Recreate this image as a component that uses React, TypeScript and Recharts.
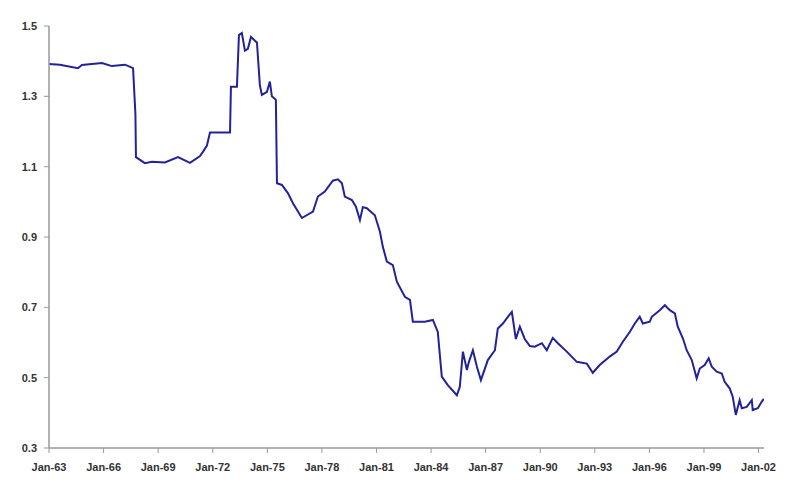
import { LineChart, Line, XAxis, YAxis } from 'recharts'

// Decimal years of each reading (x) and the plotted value (y)
const years = [
  1963.0, 1963.6, 1964.59, 1964.81, 1965.91, 1966.46, 1967.18, 1967.62, 1967.75, 1967.78,
  1968.27, 1968.66, 1969.37, 1970.09, 1970.75, 1971.3, 1971.46, 1971.68, 1971.85, 1972.95,
  1973.0, 1973.33, 1973.44, 1973.6, 1973.77, 1973.93, 1974.1, 1974.43, 1974.59, 1974.7,
  1974.98, 1975.14, 1975.25, 1975.47, 1975.53, 1975.8, 1976.13, 1976.41, 1976.9, 1977.51,
  1977.78, 1978.16, 1978.6, 1978.88, 1979.1, 1979.26, 1979.65, 1979.87, 1980.09, 1980.25,
  1980.47, 1980.91, 1981.19, 1981.35, 1981.57, 1981.9, 1982.12, 1982.56, 1982.84, 1983.0,
  1983.66, 1984.1, 1984.37, 1984.59, 1984.92, 1985.42, 1985.58, 1985.75, 1985.97, 1986.08,
  1986.3, 1986.52, 1986.74, 1987.12, 1987.51, 1987.67, 1987.95, 1988.22, 1988.44, 1988.66,
  1988.88, 1989.15, 1989.43, 1989.7, 1990.09, 1990.36, 1990.69, 1990.97, 1991.46, 1992.01,
  1992.56, 1992.89, 1993.27, 1993.82, 1994.21, 1994.54, 1994.92, 1995.2, 1995.47, 1995.64,
  1996.02, 1996.13, 1996.57, 1996.85, 1997.12, 1997.4, 1997.56, 1997.84, 1998.05, 1998.33,
  1998.6, 1998.77, 1999.04, 1999.26, 1999.43, 1999.7, 1999.98, 2000.14, 2000.42, 2000.58,
  2000.75, 2000.96, 2001.08, 2001.35, 2001.63, 2001.68, 2001.96, 2002.18, 2002.29,
]

const values = [
  1.392, 1.39, 1.38, 1.389, 1.395, 1.386, 1.39, 1.38, 1.25, 1.127,
  1.11, 1.114, 1.112, 1.127, 1.111, 1.13, 1.142, 1.16, 1.197, 1.197,
  1.327, 1.327, 1.474, 1.48, 1.43, 1.435, 1.469, 1.453, 1.332, 1.304,
  1.313, 1.342, 1.3, 1.29, 1.053, 1.048, 1.025, 0.996, 0.954, 0.972,
  1.015, 1.029, 1.06, 1.064, 1.053, 1.015, 1.005, 0.986, 0.948, 0.985,
  0.982, 0.962, 0.915, 0.872, 0.83, 0.82, 0.773, 0.73, 0.721, 0.659,
  0.659, 0.664, 0.63, 0.503, 0.479, 0.45, 0.474, 0.574, 0.522, 0.545,
  0.578, 0.531, 0.493, 0.55, 0.578, 0.64, 0.654, 0.673, 0.687, 0.61,
  0.645, 0.61, 0.59, 0.588, 0.598, 0.578, 0.613, 0.598, 0.574, 0.545,
  0.54, 0.514, 0.536, 0.56, 0.574, 0.602, 0.63, 0.654, 0.673, 0.654,
  0.659, 0.673, 0.692, 0.706, 0.692, 0.683, 0.645, 0.612, 0.578, 0.55,
  0.498, 0.526, 0.536, 0.555, 0.531, 0.517, 0.512, 0.488, 0.469, 0.446,
  0.394, 0.436, 0.413, 0.417, 0.436, 0.408, 0.413, 0.432, 0.44,
]

const xTicks = [1963, 1966, 1969, 1972, 1975, 1978, 1981, 1984, 1987, 1990, 1993, 1996, 1999, 2002]
const yTicks = [0.3, 0.5, 0.7, 0.9, 1.1, 1.3, 1.5]

const data = years.map((t, i) => ({ t, v: values[i] }))

const tickStyle = {
  fill: '#333',
  fontSize: 11,
  fontWeight: 'bold' as const,
  fontFamily: 'Arial, "Liberation Sans", sans-serif',
}

const fmtYear = (y: number) => `Jan-${String(Math.round(y) % 100).padStart(2, '0')}`

export default function App() {
  return (
    <div style={{ position: 'absolute', left: 0, top: 0, width: 800, height: 490, background: '#fff' }}>
      <LineChart width={800} height={490} data={data} margin={{ top: 26, right: 36, bottom: 0, left: 0 }}>
        <XAxis
          dataKey="t"
          type="number"
          domain={[1963, 2002.3]}
          ticks={xTicks}
          tickFormatter={fmtYear}
          allowDataOverflow
          height={42}
          tickSize={5}
          tickMargin={10}
          stroke="#999"
          axisLine={{ stroke: '#999', strokeWidth: 1.5 }}
          tick={tickStyle}
        />
        <YAxis
          type="number"
          domain={[0.3, 1.5]}
          ticks={yTicks}
          tickFormatter={(v: number) => v.toFixed(1)}
          width={49}
          tickSize={5}
          tickMargin={7}
          stroke="#999"
          axisLine={{ stroke: '#999', strokeWidth: 1.5 }}
          tick={tickStyle}
        />
        <Line
          dataKey="v"
          type="linear"
          stroke="#22229a"
          strokeWidth={2}
          dot={false}
          isAnimationActive={false}
        />
      </LineChart>
    </div>
  )
}
